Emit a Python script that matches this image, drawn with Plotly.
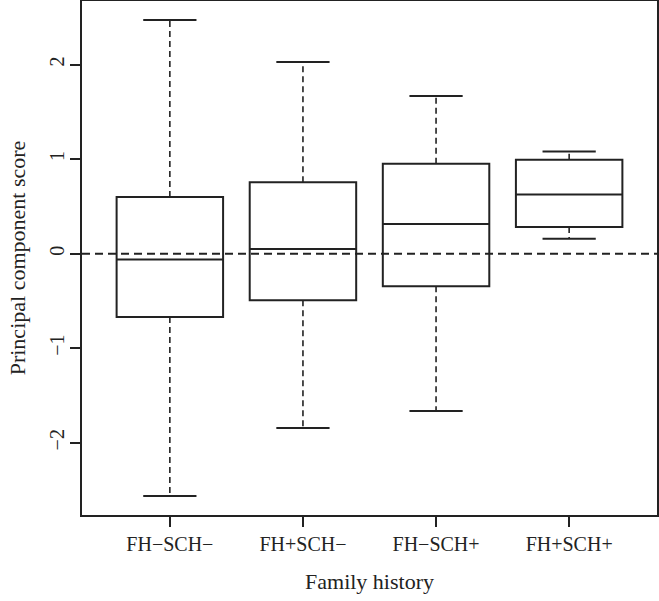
import plotly.graph_objects as go

groups = ["FH\u2212SCH\u2212", "FH+SCH\u2212", "FH\u2212SCH+", "FH+SCH+"]
positions = [1, 2, 3, 4]
lower_whisker = [-2.563, -1.845, -1.665, 0.158]
q1 = [-0.669, -0.493, -0.345, 0.281]
median = [-0.063, 0.049, 0.313, 0.626]
q3 = [0.598, 0.756, 0.950, 0.993]
upper_whisker = [2.471, 2.027, 1.668, 1.080]
yticks = [-2, -1, 0, 1, 2]

BOX_W = 0.8
CAP_W = 0.4
INK = "#222222"
FONT = "Liberation Serif, Times New Roman, serif"
FS = 20
TFS = 22

fig = go.Figure()

fig.add_trace(go.Box(
    x=positions, q1=q1, median=median, q3=q3,
    lowerfence=q1, upperfence=q3,
    width=BOX_W, whiskerwidth=0,
    fillcolor="rgba(0,0,0,0)",
    line=dict(color=INK, width=2),
    boxpoints=False, showlegend=False, hoverinfo="skip",
))

# dashed whiskers
wx, wy = [], []
for p, lo, a, b, hi in zip(positions, lower_whisker, q1, q3, upper_whisker):
    wx += [p, p, None, p, p, None]
    wy += [b, hi, None, a, lo, None]
fig.add_trace(go.Scatter(x=wx, y=wy, mode="lines",
                         line=dict(color=INK, width=1.6, dash="6px,4px"),
                         showlegend=False, hoverinfo="skip"))

# staples
cx, cy = [], []
for p, lo, hi in zip(positions, lower_whisker, upper_whisker):
    cx += [p - CAP_W / 2, p + CAP_W / 2, None, p - CAP_W / 2, p + CAP_W / 2, None]
    cy += [hi, hi, None, lo, lo, None]
fig.add_trace(go.Scatter(x=cx, y=cy, mode="lines",
                         line=dict(color=INK, width=2),
                         showlegend=False, hoverinfo="skip"))

# reference line at zero
fig.add_shape(type="line", xref="paper", x0=0, x1=1, yref="y", y0=0, y1=0,
              line=dict(color=INK, width=2, dash="8px,5px"), layer="above")

ymin = min(lower_whisker)
ymax = max(upper_whisker)
pad = 0.04 * (ymax - ymin)

fig.update_layout(
    width=659, height=601,
    margin=dict(l=82, r=2, t=1, b=86),
    plot_bgcolor="white", paper_bgcolor="white",
    font=dict(family=FONT, size=FS, color=INK),
    xaxis=dict(
        range=[0.5 - 0.04 * 4, 4.5 + 0.04 * 4],
        tickmode="array", tickvals=positions, ticktext=groups,
        ticks="outside", ticklen=10, tickwidth=2, tickcolor=INK,
        showline=True, linewidth=2, linecolor=INK, mirror=True,
        showgrid=False, zeroline=False, automargin=False,
        tickfont=dict(size=FS),
        title=dict(text="Family history", font=dict(size=TFS), standoff=20),
    ),
    yaxis=dict(
        range=[ymin - pad, ymax + pad],
        tickmode="array", tickvals=yticks,
        ticktext=[str(v).replace("-", "\u2212") for v in yticks],
        ticks="outside", ticklen=10, tickwidth=2, tickcolor=INK,
        tickangle=-90, ticklabelstandoff=-2,
        showline=True, linewidth=2, linecolor=INK, mirror=True,
        showgrid=False, zeroline=False, automargin=False,
        tickfont=dict(size=FS),
        title=dict(text="Principal component score", font=dict(size=TFS), standoff=14),
    ),
)

fig.write_html(
    "out.html",
    config={"displayModeBar": False},
    post_script="document.body.style.margin='0';document.body.style.overflow='hidden';",
)
